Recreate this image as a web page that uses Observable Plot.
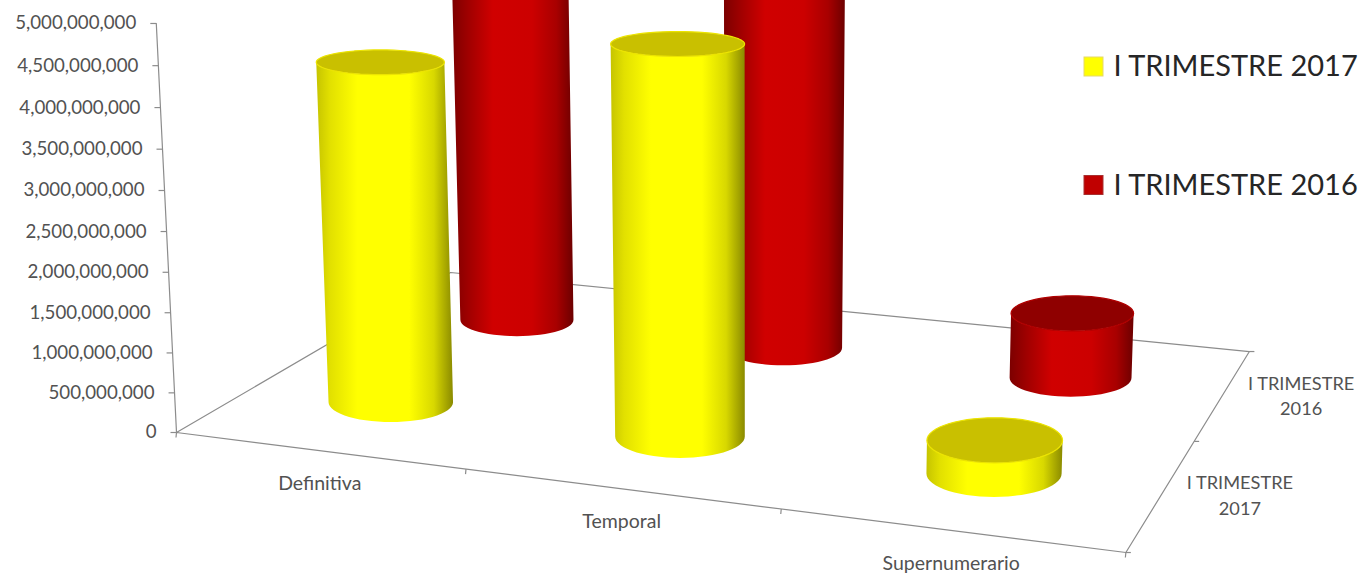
<!DOCTYPE html>
<html>
<head>
<meta charset="utf-8">
<style>
  html, body { margin: 0; padding: 0; background: #fff; overflow: hidden; }
  svg { overflow: hidden; display: block; }
</style>
<script src="https://cdn.jsdelivr.net/npm/d3@7"></script>
<script src="https://cdn.jsdelivr.net/npm/@observablehq/plot@0.6"></script>
</head>
<body>
<script>
// Chart values
const categories = ["Definitiva", "Temporal", "Supernumerario"];
const seriesNames = ["I TRIMESTRE 2017", "I TRIMESTRE 2016"];
const values2017 = [4300000000, 4760000000, 400000000];
const values2016 = [5000000000, 5000000000, 850000000];
const valueTicks = [0, 500000000, 1000000000, 1500000000, 2000000000, 2500000000,
                    3000000000, 3500000000, 4000000000, 4500000000, 5000000000];

const W = 1362, H = 574, FONT = "Lato, sans-serif";
const valueMax = 5000000000;

// Perspective camera of the 3D box: u runs along categories, v along series, t up the value axis.
function project(u, v, t) {
  const w = 1 - 0.1225 * u + 0.2073 * v - 0.034 * t;
  return [(811.5 * u + 367.3 * v - 25.5 * t + 176) / w,
          (52.4 * u - 103.6 * v - 409.8 * t + 432) / w, w];
}
const pv = (i, j, value) => project((i + 0.5) / categories.length, (j + 0.5) / seriesNames.length, value / valueMax);

// Outline of one cylinder from its base and top ring.
const angles = d3.range(0, 181, 6).map(d => d * Math.PI / 180);
const ring = ([cx, cy, w]) => {
  const rx = 64.2 / w;
  return {cx, cy, rx, ry: rx * (0.17 + 0.00037 * cy)};
};
function cylinder(i, j, value) {
  const a = ring(pv(i, j, value)), b = ring(pv(i, j, 0));
  const body = angles.map(th => ({
    x1: a.cx + a.rx * Math.cos(th), y1: a.cy + a.ry * Math.sin(th),
    x2: b.cx + b.rx * Math.cos(th), y2: b.cy + b.ry * Math.sin(th)
  }));
  const cap = angles.map(th => ({
    x: a.cx + a.rx * Math.cos(th),
    y1: a.cy - a.ry * Math.sin(th),
    y2: a.cy + a.ry * Math.sin(th)
  }));
  return {body, cap};
}

const styles = [
  {body: "url(#bodyYellow)", cap: "#c9c000", edge: "#ece400"},
  {body: "url(#bodyRed)", cap: "#8f0000", edge: "#b00000"}
];
const serieValues = [values2017, values2016];

// Shading across the round bodies.
function gradients() {
  const defs = document.createElementNS("http://www.w3.org/2000/svg", "defs");
  const ramp = (id, stops) => `<linearGradient id="${id}" x1="0" x2="1" y1="0" y2="0">` +
    stops.map(([o, c]) => `<stop offset="${o}" stop-color="${c}"/>`).join("") + `</linearGradient>`;
  defs.innerHTML =
    ramp("bodyYellow", [[0, "#c6c400"], [0.1, "#e2e000"], [0.3, "#ffff00"], [0.68, "#ffff00"], [0.86, "#d8d800"], [1, "#8a8a00"]]) +
    ramp("bodyRed", [[0, "#7c0000"], [0.14, "#a00000"], [0.34, "#d00000"], [0.66, "#cc0000"], [0.86, "#a80000"], [1, "#6c0000"]]);
  return defs;
}

// Floor outline and axis ticks
const floor = [[0, 0], [1, 0], [1, 1], [0, 1], [0, 0]].map(([u, v]) => project(u, v, 0));
const catTicks = [0, 1, 2, 3].map(i => project(i / categories.length, 0, 0));
const serTicks = [0, 1, 2].map(j => project(1, j / seriesNames.length, 0));
const axisEnds = [project(0, 0, 0), project(0, 0, 1)];
const valueRows = valueTicks.map(value => {
  const p = project(0, 0, value / valueMax);
  return {value, x: p[0], y: p[1]};
});
const catRows = categories.map((name, i) => {
  const p = project((i + 0.5) / categories.length, 0, 0);
  return {name, x: p[0] + 1.5, y: p[1] + 33.5};
});
const serRows = seriesNames.map((name, j) => {
  const p = project(1, (j + 0.5) / seriesNames.length, 0);
  return {name: name.replace(/ (\d+)$/, "\n$1"), x: p[0] + 78, y: p[1]};
});
const legendRows = seriesNames.map((name, j) => ({
  name, color: ["#ffff00", "#c00000"][j], edge: ["#e6d96a", "#a83030"][j],
  y: [66.5, 185][j]
}));

// Painter's order: far series first.
const cylinderMarks = [1, 0].flatMap(j => categories.flatMap((_, i) => {
  const {body, cap} = cylinder(i, j, serieValues[j][i]);
  const s = styles[j];
  return [
    Plot.area(body, {x1: "x1", y1: "y1", x2: "x2", y2: "y2", fill: s.body, curve: "linear"}),
    Plot.areaY(cap, {x: "x", y1: "y1", y2: "y2", fill: s.cap, stroke: s.edge, strokeWidth: 1.2, curve: "linear"})
  ];
}));

const chart = Plot.plot({
  width: W, height: H,
  marginTop: 0, marginRight: 0, marginBottom: 0, marginLeft: 0,
  x: {domain: [0, W], range: [0, W], axis: null},
  y: {domain: [0, H], range: [0, H], axis: null},
  style: {background: "#fff", overflow: "hidden"},
  marks: [
    gradients,
    // floor and value axis
    Plot.line(floor, {x: d => d[0], y: d => d[1], stroke: "#8c8c8c", strokeWidth: 1.2, curve: "linear"}),
    Plot.line(axisEnds, {x: d => d[0], y: d => d[1], stroke: "#8c8c8c", strokeWidth: 1.2}),
    Plot.link(valueRows, {x1: d => d.x - 6, x2: "x", y1: "y", y2: "y", stroke: "#8c8c8c", strokeWidth: 1.2}),
    Plot.link(catTicks, {x1: d => d[0], x2: d => d[0] - 0.5, y1: d => d[1], y2: d => d[1] + 5, stroke: "#8c8c8c", strokeWidth: 1.2}),
    Plot.link(serTicks, {x1: d => d[0], x2: d => d[0] + 5, y1: d => d[1], y2: d => d[1], stroke: "#8c8c8c", strokeWidth: 1.2}),
    ...cylinderMarks,
    // axis labels
    Plot.text(valueRows, {x: d => d.x - 20, y: "y", text: d => d3.format(",")(d.value), textAnchor: "end",
      fontFamily: FONT, fontSize: 18.7, fill: "#525252"}),
    Plot.text(catRows, {x: "x", y: "y", text: "name", fontFamily: FONT, fontSize: 19.5, fill: "#525252"}),
    Plot.text(serRows, {x: "x", y: "y", text: "name", fontFamily: FONT, fontSize: 18.2, lineHeight: 1.4, fill: "#525252"}),
    // legend
    Plot.rect(legendRows, {x1: () => 1084, x2: () => 1103, y1: d => d.y - 9.5, y2: d => d.y + 9.5,
      fill: "color", stroke: "edge", strokeWidth: 1}),
    Plot.text(legendRows, {x: () => 1113, y: "y", text: "name", textAnchor: "start", fontFamily: FONT,
      fontSize: 29, fill: "#262626"})
  ]
});
document.body.appendChild(chart);
</script>
</body>
</html>
